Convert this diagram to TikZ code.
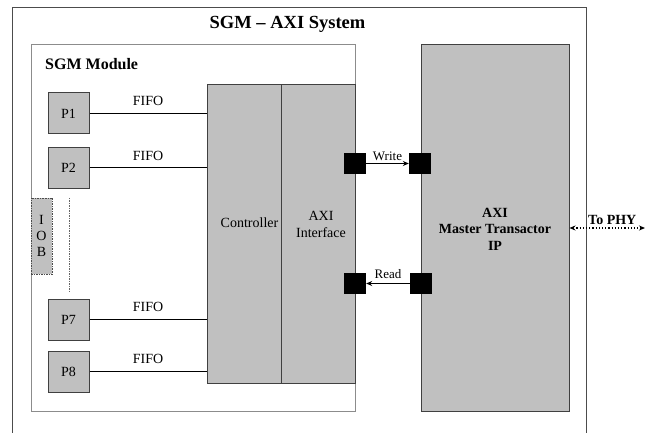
\documentclass[tikz,border=0pt]{standalone}
\usepackage{fontspec}
\setmainfont{Liberation Serif}
\usepackage{xcolor}
\usepackage{tikz}
\usetikzlibrary{arrows.meta}
\definecolor{boxgray}{RGB}{192,192,192}
\tikzset{>={Stealth[length=6pt,width=5pt]}}
\tikzset{
  pbox/.style={draw=black!75, line width=1pt, fill=boxgray, minimum width=41pt, minimum height=41pt, inner sep=0pt, font=\fontsize{14}{16}\selectfont},
  port/.style={fill=black, minimum width=22pt, minimum height=21pt, inner sep=0pt},
  bigbox/.style={draw=black!75, line width=1pt, fill=boxgray, inner sep=0pt},
  lbl/.style={font=\fontsize{14}{16}\selectfont, inner sep=2pt},
  sm/.style={font=\fontsize{13}{15}\selectfont, inner sep=1pt},
  bld/.style={font=\fontsize{14}{16.5}\selectfont\bfseries, align=center, inner sep=1pt},
}

\begin{document}
\begin{tikzpicture}[x=1pt,y=-1pt]
  \useasboundingbox (0,0) rectangle (654,433);
  \draw[line width=1pt, black!70] (12,433) |- (586,8) -- (586,433);
  \node[anchor=base, font=\fontsize{18.5}{20}\selectfont\bfseries] (title) at (287.5,29) {SGM -- AXI System};

  \draw[line width=1pt, black!45] (31,45) rectangle (355,411);
  \node[anchor=base west, font=\fontsize{16}{18}\selectfont\bfseries, inner sep=0pt] (module) at (45,70) {SGM Module};

  \node[bigbox, minimum width=74pt, minimum height=298pt] (ctrl) at (244,234) {};
  \node[bigbox, minimum width=74pt, minimum height=298pt] (axi) at (318,234) {};
  \node[lbl, anchor=base] (ctrltxt) at (249.5,228) {Controller};
  \node[lbl, align=center, font=\fontsize{14}{17}\selectfont] (axitxt) at (321,224) {AXI\\Interface};

  \node[pbox] (p1) at (68.5,113.5) {P1};
  \node[pbox] (p2) at (68.5,168) {P2};
  \node[pbox] (p7) at (68.5,319.5) {P7};
  \node[pbox] (p8) at (68.5,371.5) {P8};
  \draw[line width=1pt] (p1.east) -- node[lbl, midway, above=5pt] (f1) {FIFO} (ctrl.west |- p1.east);
  \draw[line width=1pt] (p2.east) -- node[lbl, midway, above=5pt] (f2) {FIFO} (ctrl.west |- p2.east);
  \draw[line width=1pt] (p7.east) -- node[lbl, midway, above=5pt] (f7) {FIFO} (ctrl.west |- p7.east);
  \draw[line width=1pt] (p8.east) -- node[lbl, midway, above=5pt] (f8) {FIFO} (ctrl.west |- p8.east);

  \node[draw=black!70, line width=0.8pt, dash pattern=on 1.5pt off 1pt, fill=boxgray, minimum width=21pt, minimum height=76pt, inner sep=0pt, align=center, font=\fontsize{14}{16}\selectfont] (iob) at (41.5,236) {I\\O\\B};
  \draw[black!60, line width=0.8pt, dash pattern=on 1.5pt off 1pt] (69,198) -- (69,291);

  \node[bigbox, minimum width=148pt, minimum height=366pt] (master) at (495,228) {};
  \node[bld] (mastertxt) at (495,229) {AXI\\Master Transactor\\IP};

  \node[port] (wl) at (355,163.5) {};
  \node[port] (wr) at (420,163.5) {};
  \node[port] (rl) at (355,283.5) {};
  \node[port] (rr) at (421,283.5) {};
  \draw[->, line width=0.8pt] (wl.east) -- node[sm, midway, above=1pt] (wtxt) {Write} (wr.west);
  \draw[->, line width=0.8pt] (rr.west) -- node[sm, midway, above=3pt] (rtxt) {Read} (rl.east);

  \coordinate (phy) at (645,228);
  \draw[<->, line width=1.2pt, dotted] (master.east) -- node[midway, above=2pt, xshift=5pt, inner sep=1pt, font=\fontsize{14}{16}\selectfont\bfseries] (phytxt) {To PHY} (phy);
\end{tikzpicture}
\end{document}
